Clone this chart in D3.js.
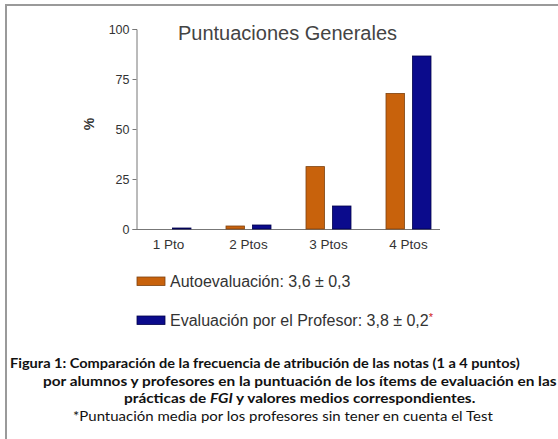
<!DOCTYPE html>
<html><head><meta charset="utf-8">
<script src="https://cdn.jsdelivr.net/npm/d3@7/dist/d3.min.js"></script>
<style>body{margin:0;background:#fff}svg{display:block}</style>
</head><body>
<script>
const categories = ["1 Pto", "2 Ptos", "3 Ptos", "4 Ptos"];
const autoevaluacion = [0, 1.5, 31.2, 67.8];
const profesor = [0.5, 2, 11.5, 86.5];
const yTicks = [0, 25, 50, 75, 100];
const seriesNames = ["Autoevaluación: 3,6 \u00B1 0,3", "Evaluación por el Profesor: 3,8 \u00B1 0,2"];
const captionLines = [
  "Figura 1: Comparación de la frecuencia de atribución de las notas (1 a 4 puntos)",
  "por alumnos y profesores en la puntuación de los ítems de evaluación en las",
  "prácticas de FGI y valores medios correspondientes.",
  "*Puntuación media por los profesores sin tener en cuenta el Test"
];

const W = 558, H = 439;
const svg = d3.select("body").append("svg").attr("width", W).attr("height", H);
svg.append("rect").attr("width", W).attr("height", H).attr("fill", "#fff");
// frame
svg.append("path").attr("d", "M6,439 V5 H558").attr("fill", "none").attr("stroke", "#9a9a9a").attr("stroke-width", 2);

const x = d3.scaleBand().domain(categories).range([128.5, 448.5]);
const y = d3.scaleLinear().domain([0, 100]).range([229, 29]);
const colors = ["#c8620c", "#0b0b8c"];
const strokes = ["#7d4210", "#00004a"];
const series = [autoevaluacion, profesor];
const barW = 18.5, gap = 8;
const sans = "Liberation Sans, Arial, sans-serif";

// y axis
const ya = svg.append("g").attr("transform", "translate(136.5,0)")
  .call(d3.axisLeft(y).tickValues(yTicks).tickSize(4).tickPadding(3));
ya.select(".domain").attr("stroke", "#777");
ya.selectAll(".tick line").attr("stroke", "#777");
ya.selectAll("text").attr("font-family", sans).attr("font-size", 12.5).attr("fill", "#333");

// x axis line
svg.append("line").attr("x1", 136.5).attr("x2", 440).attr("y1", 229.5).attr("y2", 229.5).attr("stroke", "#777");
svg.append("g").selectAll("text").data(categories).join("text")
  .attr("x", d => x(d) + x.bandwidth() / 2).attr("y", 249)
  .attr("text-anchor", "middle").attr("font-family", sans)
  .attr("font-size", 13.5).attr("fill", "#333").text(d => d);

// bars
series.forEach((vals, si) => {
  svg.append("g").selectAll("rect").data(vals).join("rect")
    .attr("x", (d, i) => x(categories[i]) + x.bandwidth() / 2 + (si === 0 ? -(gap / 2 + barW) : gap / 2))
    .attr("width", barW)
    .attr("y", d => y(d))
    .attr("height", d => Math.max(0, y(0) - y(d)))
    .attr("fill", colors[si]).attr("stroke", strokes[si]).attr("stroke-width", 0.8);
});

// title
svg.append("text").attr("x", 287.5).attr("y", 40).attr("text-anchor", "middle")
  .attr("font-family", sans).attr("font-size", 20).attr("fill", "#444")
  .text("Puntuaciones Generales");

// y label
svg.append("text").attr("transform", "translate(94,124) rotate(-90)").attr("text-anchor", "middle")
  .attr("font-family", sans).attr("font-size", 14).attr("font-weight", "bold")
  .attr("fill", "#333").text("%");

// legend
const legY = [277, 316];
seriesNames.forEach((name, i) => {
  svg.append("rect").attr("x", 137).attr("y", legY[i]).attr("width", 28).attr("height", 8.5)
    .attr("fill", colors[i]).attr("stroke", strokes[i]).attr("stroke-width", 0.8);
  const t = svg.append("text").attr("x", 170).attr("y", legY[i] + 10)
    .attr("font-family", sans).attr("font-size", 16).attr("fill", "#333")
    .text(name);
  if (i === 1) t.append("tspan").attr("fill", "#d02020").attr("font-size", 11).attr("dy", -5).text("*");
});

// caption
const cap = [
  {x: 10, y: 368, bold: true, w: 510},
  {x: 43, y: 385.5, bold: true, w: 514},
  {x: 124, y: 403, bold: true, w: 0},
  {x: 73, y: 421, bold: false, w: 420}
];
const capTexts = cap.map((c, i) => {
  const t = svg.append("text").attr("x", 0).attr("y", 0)
    .attr("font-family", "Lato, 'Open Sans', sans-serif").attr("font-size", 13.5)
    .attr("font-weight", c.bold ? "bold" : "normal").attr("fill", "#111");
  if (i === 2) {
    t.append("tspan").text("prácticas de ");
    t.append("tspan").attr("font-style", "italic").text("FGI");
    t.append("tspan").text(" y valores medios correspondientes.");
  } else {
    t.text(captionLines[i]);
  }
  return t;
});
const L2 = capTexts[1].node().getComputedTextLength();
const sxBase = L2 > 0 ? 514 / L2 : 1;
capTexts.forEach((t, i) => {
  const len = t.node().getComputedTextLength();
  const sx = cap[i].w && len > 0 ? cap[i].w / len : sxBase;
  t.attr("transform", `translate(${cap[i].x},${cap[i].y}) scale(${sx},1)`);
});
</script>
</body></html>
